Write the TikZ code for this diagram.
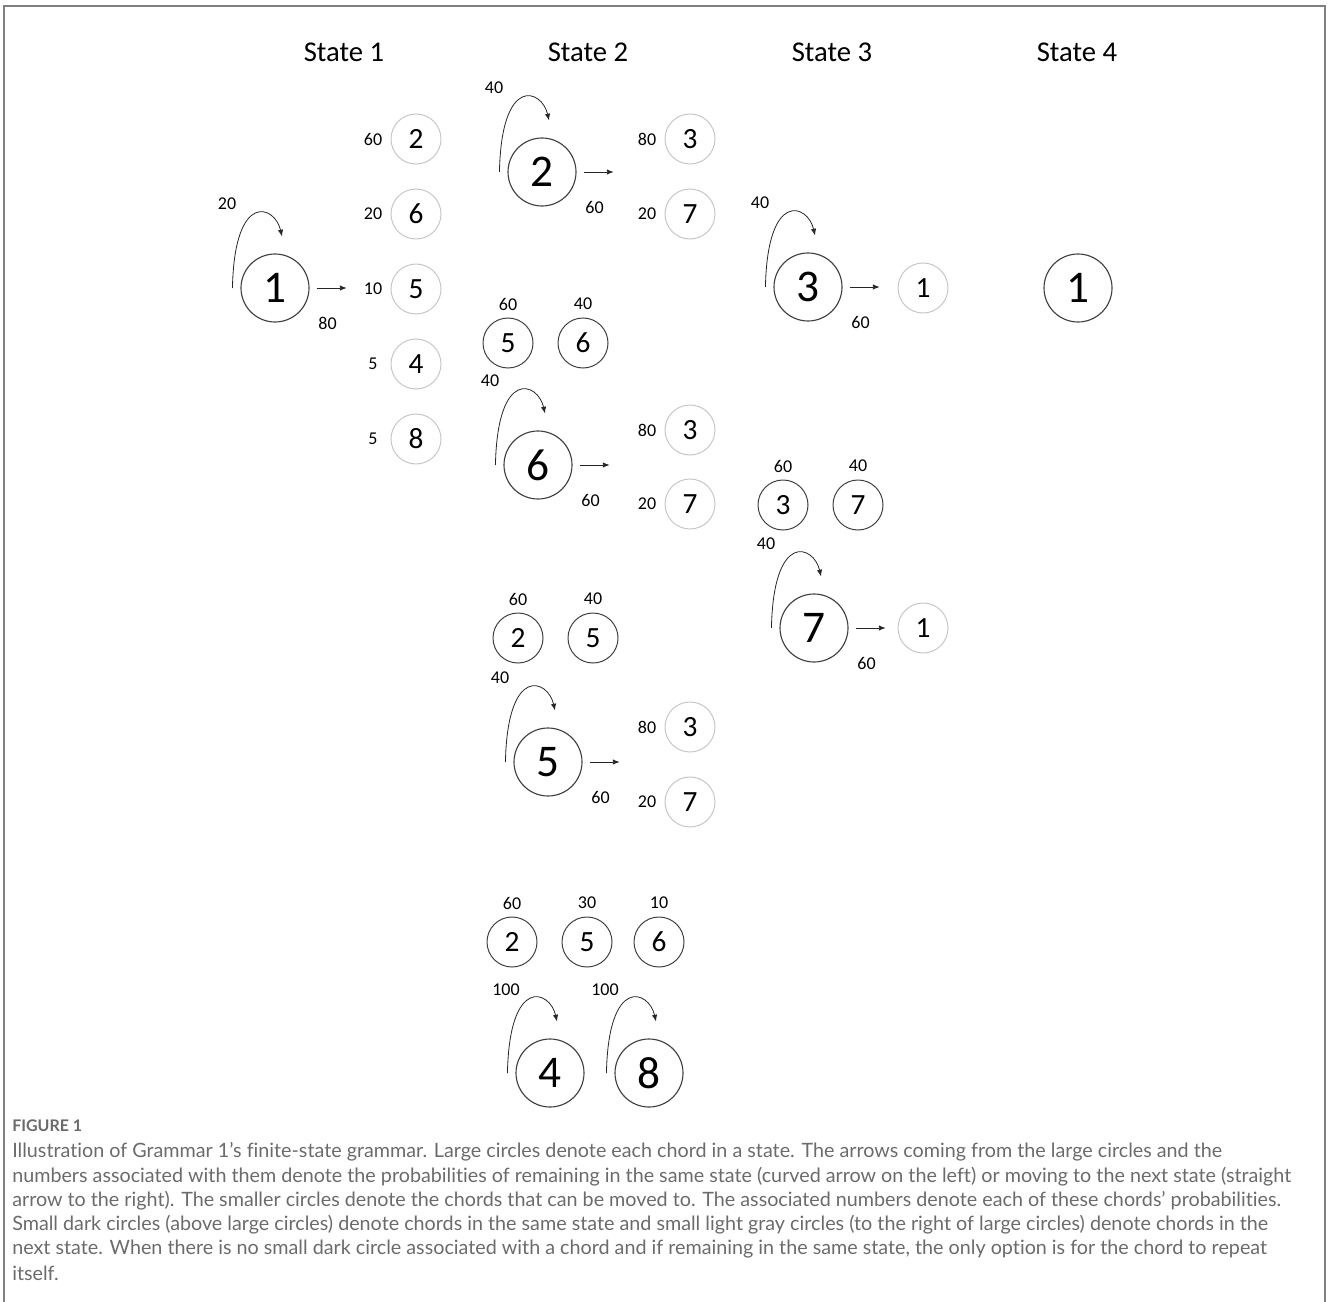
\documentclass[tikz,border=0pt]{standalone}
\usepackage{fontspec}
\setmainfont{Carlito}
\newfontfamily\capfont[Ligatures=NoCommon]{Lato}
\usetikzlibrary{arrows.meta}
\begin{document}
\begin{tikzpicture}[x=0.75pt,y=-0.75pt,
  bigc/.style={circle, draw=black!75, line width=0.85pt, minimum size=51pt, inner sep=0pt, font=\fontsize{34}{34}\selectfont},
  darkc/.style={circle, draw=black!75, line width=0.75pt, minimum size=37.5pt, inner sep=0pt, font=\fontsize{22}{22}\selectfont},
  lightc/.style={circle, draw=black!22, line width=0.75pt, minimum size=37.5pt, inner sep=0pt, font=\fontsize{22}{22}\selectfont},
  lab/.style={inner sep=0pt, font=\fontsize{13.5}{13.5}\selectfont},
  head/.style={inner sep=0pt, font=\fontsize{21.5}{21.5}\selectfont},
  arr/.style={-{Latex[length=5pt,width=4pt]}, line width=0.6pt, black!85},
  frameline/.style={draw=black!50, line width=1.5pt},
  captxt/.style={anchor=west, inner sep=0pt, text=black!58, font=\capfont\fontsize{14.8}{14.8}\selectfont},
  capttl/.style={anchor=west, inner sep=0pt, text=black!58, font=\capfont\bfseries\fontsize{12}{12}\selectfont}]
\useasboundingbox (0,0) rectangle (1328,1302);
\draw[frameline] (4,1302) -- (4,6) -- (1325,6) -- (1325,1302);

% headers
\node[head] (H1) at (344,52) {State 1};
\node[head] (H2) at (588,52) {State 2};
\node[head] (H3) at (832,52) {State 3};
\node[head] (H4) at (1077,52) {State 4};

% big circles with loops
\foreach \n/\x/\y/\d/\l in {B1/275/288/1/20, B2/542/172/2/40, B6/538/465/6/40, B5/548/762/5/40, B3/808/287/3/40, B7/814/628/7/40}{
  \node[bigc] (\n) at (\x,\y) {\d};
  \node[lab] (\n loop) at (\x-48,\y-84) {\l};
  \draw[arr] ([shift={(-8,0)}]\n.west) .. controls +(2,-98) and +(-7,-31) .. ([shift={(7,-17)}]\n.north);
}
\foreach \n/\x/\y/\d/\l in {B4/550/1073/4/100, B8/649/1073/8/100}{
  \node[bigc] (\n) at (\x,\y) {\d};
  \node[lab] (\n loop) at (\x-44,\y-83) {\l};
  \draw[arr] ([shift={(-8,0)}]\n.west) .. controls +(2,-98) and +(-7,-31) .. ([shift={(7,-17)}]\n.north);
}
\node[bigc] (BF) at (1078,288) {1};

% straight arrows
\foreach \n/\l in {B1/80, B2/60, B6/60, B5/60, B3/60, B7/60}{
  \coordinate (\n end) at ([shift={(37,0)}]\n.east);
  \draw[arr] ([shift={(7,0)}]\n.east) -- (\n end);
  \node[lab] (\n out) at ([shift={(18,35)}]\n.east) {\l};
}

% light circles (next state)
\foreach \n/\x/\y/\d/\l in {L1/416/139/2/60, L2/416/214/6/20, L3/416/289/5/10, L4/416/364/4/5, L5/416/439/8/5,
  L6/690/139/3/80, L7/690/214/7/20, L8/690/430/3/80, L9/690/504/7/20, L10/690/727/3/80, L11/690/802/7/20}{
  \node[lightc] (\n) at (\x,\y) {\d};
  \node[lab] (\n lab) at (\x-43,\y) {\l};
}
\node[lightc] (L12) at (923,288) {1};
\node[lightc] (L13) at (923,628) {1};

% dark circles (same state)
\foreach \n/\x/\y/\d/\l in {D1/508/343/5/60, D2/583/343/6/40, D3/518/638/2/60, D4/593/638/5/40,
  D5/512/942/2/60, D6/587/942/5/30, D7/659/942/6/10, D8/783/505/3/60, D9/858/505/7/40}{
  \node[darkc] (\n) at (\x,\y) {\d};
  \node[lab] (\n lab) at (\x,\y-39) {\l};
}

% caption
\node[capttl] (C0) at (12,1126) {FIGURE 1};
\node[captxt] (C1) at (12,1152) {Illustration of Grammar 1’s finite-state grammar. Large circles denote each chord in a state. The arrows coming from the large circles and the};
\node[captxt] (C2) at (12,1177) {numbers associated with them denote the probabilities of remaining in the same state (curved arrow on the left) or moving to the next state (straight};
\node[captxt] (C3) at (12,1201) {arrow to the right). The smaller circles denote the chords that can be moved to. The associated numbers denote each of these chords’ probabilities.};
\node[captxt] (C4) at (12,1225) {Small dark circles (above large circles) denote chords in the same state and small light gray circles (to the right of large circles) denote chords in the};
\node[captxt] (C5) at (12,1249) {next state. When there is no small dark circle associated with a chord and if remaining in the same state, the only option is for the chord to repeat};
\node[captxt] (C6) at (12,1273) {itself.};
\end{tikzpicture}
\end{document}
